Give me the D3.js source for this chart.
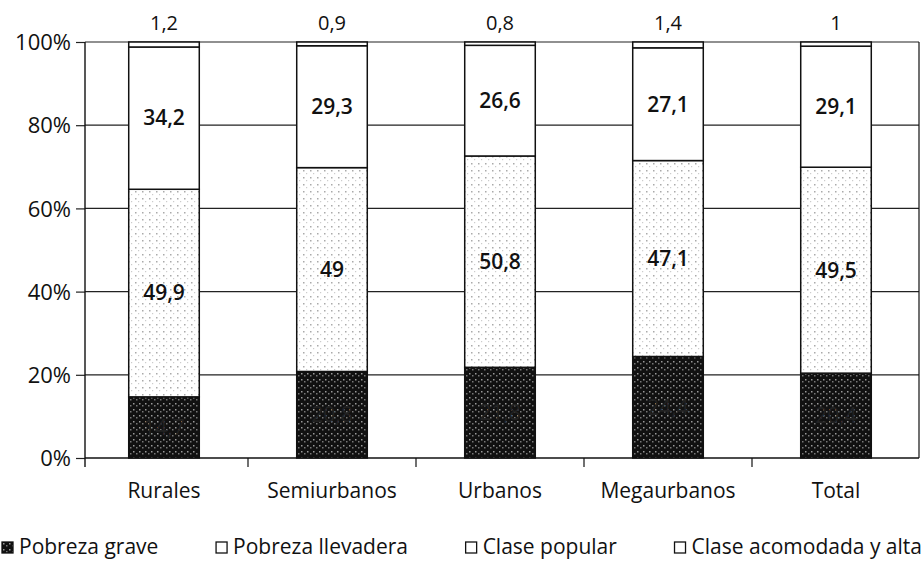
<!DOCTYPE html>
<html>
<head>
<meta charset="utf-8">
<script src="https://cdn.jsdelivr.net/npm/d3@7"></script>
<style>
  body { margin: 0; background: #fff; }
  text { font-family: "Open Sans", Lato, sans-serif; fill: #111; }
</style>
</head>
<body>
<div class="canvas"></div>
<script>
const categories = ["Rurales", "Semiurbanos", "Urbanos", "Megaurbanos", "Total"]
const series = ["Pobreza grave", "Pobreza llevadera", "Clase popular", "Clase acomodada y alta"]
const pobrezaGrave = [14.7, 20.8, 21.8, 24.4, 20.4]
const pobrezaLlevadera = [49.9, 49, 50.8, 47.1, 49.5]
const clasePopular = [34.2, 29.3, 26.6, 27.1, 29.1]
const claseAcomodada = [1.2, 0.9, 0.8, 1.4, 1]
const yTicks = [0, 20, 40, 60, 80, 100]

const width = 924, height = 568

const svg = d3.select(".canvas")
  .append("svg")
  .attr("width", width)
  .attr("height", height)

// speckle patterns
const defs = svg.append("defs")
const pg = defs.append("pattern").attr("id", "grave")
  .attr("width", 6).attr("height", 6).attr("patternUnits", "userSpaceOnUse")
pg.append("rect").attr("width", 6).attr("height", 6).attr("fill", "#111")
pg.append("rect").attr("x", 1).attr("y", 1).attr("width", 1.5).attr("height", 1.5).attr("fill", "#999")
pg.append("rect").attr("x", 4).attr("y", 3).attr("width", 1.5).attr("height", 1.5).attr("fill", "#777")

const pl = defs.append("pattern").attr("id", "llevadera")
  .attr("width", 7).attr("height", 7).attr("patternUnits", "userSpaceOnUse")
pl.append("rect").attr("width", 7).attr("height", 7).attr("fill", "#fff")
pl.append("rect").attr("x", 2).attr("y", 2).attr("width", 1.5).attr("height", 1.5).attr("fill", "#aaa")
pl.append("rect").attr("x", 5).attr("y", 5).attr("width", 1.2).attr("height", 1.2).attr("fill", "#ccc")

const fills = ["url(#grave)", "url(#llevadera)", "#fff", "#fff"]

const data = categories.map((c, i) => ({
  cat: c,
  "Pobreza grave": pobrezaGrave[i],
  "Pobreza llevadera": pobrezaLlevadera[i],
  "Clase popular": clasePopular[i],
  "Clase acomodada y alta": claseAcomodada[i]
}))

const stacked = d3.stack().keys(series)(data)

const plotLeft = 85, plotRight = 919
const xScale = d3.scaleBand().domain(categories).range([80, 920]).paddingInner(0.58).paddingOuter(0.29)
const yScale = d3.scaleLinear().domain([0, 100]).range([458, 42])

// gridlines
svg.append("g").selectAll("line")
  .data(yTicks.filter(d => d > 0))
  .enter().append("line")
  .attr("x1", plotLeft).attr("x2", plotRight)
  .attr("y1", d => yScale(d)).attr("y2", d => yScale(d))
  .attr("stroke", "#222").attr("stroke-width", 1.2)

// y axis
const yAxis = d3.axisLeft(yScale).tickValues(yTicks).tickSize(9).tickPadding(5).tickFormat(d => d + "%")
const yAxisGroup = svg.append("g").attr("transform", `translate(${plotLeft},0)`).call(yAxis)
yAxisGroup.select(".domain").remove()
yAxisGroup.selectAll("line").attr("stroke", "#222").attr("stroke-width", 1.2)
yAxisGroup.selectAll("text").style("font-size", "22px").attr("dy", "0.35em")

svg.append("line").attr("x1", plotLeft).attr("x2", plotLeft).attr("y1", 42).attr("y2", 467)
  .attr("stroke", "#111").attr("stroke-width", 1.4)
svg.append("line").attr("x1", plotRight).attr("x2", plotRight).attr("y1", 42).attr("y2", 458)
  .attr("stroke", "#111").attr("stroke-width", 1.2)

// x axis
const xAxisGroup = svg.append("g").attr("transform", `translate(0,${yScale(0)})`)
xAxisGroup.append("line").attr("x1", plotLeft).attr("x2", plotRight)
  .attr("stroke", "#111").attr("stroke-width", 1.4)
xAxisGroup.selectAll(".sep")
  .data(categories.slice(1))
  .enter().append("line")
  .attr("class", "sep")
  .attr("x1", d => xScale(d) - xScale.step() * xScale.paddingInner() / 2)
  .attr("x2", d => xScale(d) - xScale.step() * xScale.paddingInner() / 2)
  .attr("y1", 0).attr("y2", 9)
  .attr("stroke", "#111").attr("stroke-width", 1.2)
xAxisGroup.selectAll(".cat")
  .data(categories)
  .enter().append("text")
  .attr("class", "cat")
  .attr("x", d => xScale(d) + xScale.bandwidth() / 2)
  .attr("y", 40)
  .attr("text-anchor", "middle")
  .style("font-size", "21px")
  .text(d => d)

// bars
const groups = svg.selectAll(".layer")
  .data(stacked)
  .enter().append("g")
  .attr("class", "layer")
  .attr("fill", (d, i) => fills[i])

groups.selectAll("rect")
  .data(d => d)
  .enter().append("rect")
  .attr("x", d => xScale(d.data.cat))
  .attr("y", d => yScale(d[1]))
  .attr("width", xScale.bandwidth())
  .attr("height", d => yScale(d[0]) - yScale(d[1]))
  .attr("stroke", "#111")
  .attr("stroke-width", 1.5)

// segment labels
const fmt = v => String(v).replace(".", ",")
groups.each(function (layer, li) {
  const g = d3.select(this)
  g.selectAll("text")
    .data(layer)
    .enter().append("text")
    .attr("x", d => xScale(d.data.cat) + xScale.bandwidth() / 2)
    .attr("y", d => li === 3 ? yScale(100) - 12 : (yScale(d[0]) + yScale(d[1])) / 2)
    .attr("dy", li === 3 ? 0 : "0.35em")
    .attr("text-anchor", "middle")
    .style("font-size", li === 3 ? "20px" : "21px")
    .style("font-weight", li === 1 || li === 2 ? "600" : "normal")
    .style("fill", li === 0 ? "#222" : "#111")
    .text(d => fmt(d.data[layer.key]))
})

// legend, spread across the full width
const legend = svg.append("g").attr("transform", "translate(0,542)")
const items = series.map((s, i) => {
  const item = legend.append("g")
  item.append("rect")
    .attr("width", 11).attr("height", 11)
    .attr("fill", i === 0 ? "url(#grave)" : "#fff")
    .attr("stroke", "#111").attr("stroke-width", 1.3)
  const t = item.append("text")
    .attr("x", 17).attr("y", 12)
    .style("font-size", "21px")
    .text(s)
  return { item, w: 17 + t.node().getComputedTextLength() }
})
const legStart = 2, legEnd = 922
const gap = (legEnd - legStart - d3.sum(items, d => d.w)) / (items.length - 1)
let lx = legStart
items.forEach(d => {
  d.item.attr("transform", `translate(${lx},0)`)
  lx += d.w + gap
})
</script>
</body>
</html>
